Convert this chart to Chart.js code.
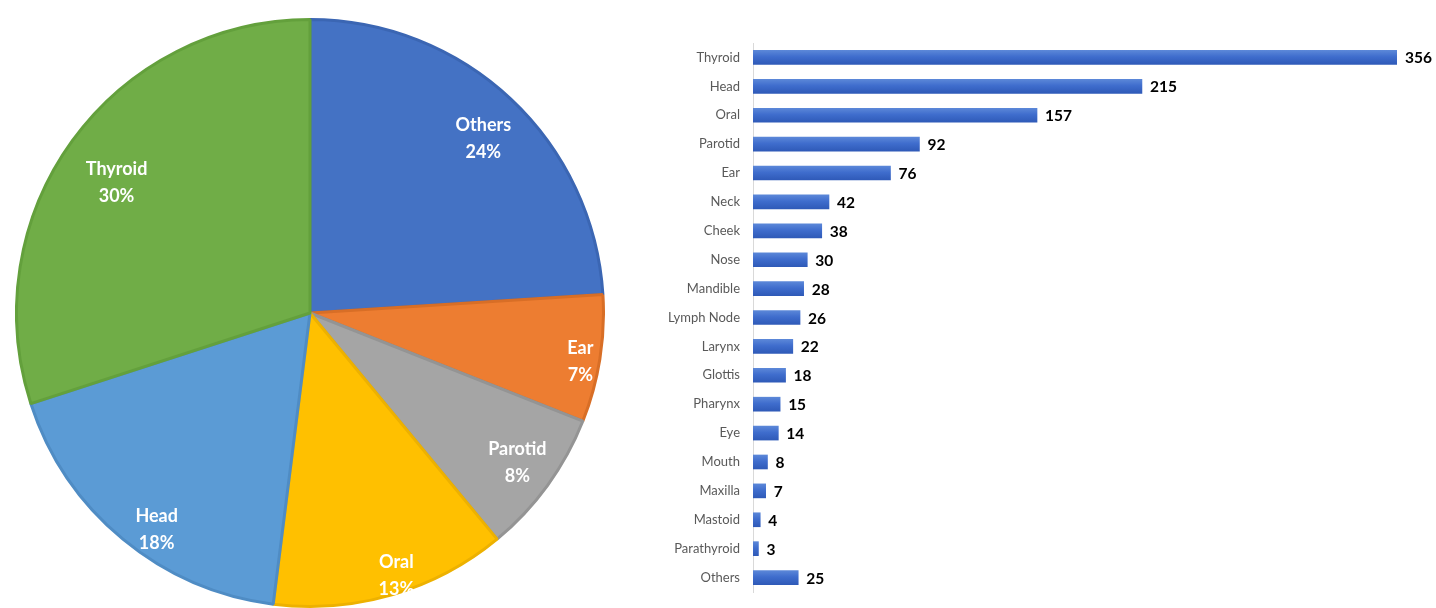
<!DOCTYPE html>
<html>
<head>
<meta charset="utf-8">
<title>Tumour sites</title>
<script src="https://cdn.jsdelivr.net/npm/chart.js@4.4.1/dist/chart.umd.min.js"></script>
<style>
  html, body { margin: 0; padding: 0; background: #ffffff; }
  body { width: 1436px; height: 608px; position: relative; overflow: hidden; }
  #pieBox { position: absolute; left: 14.5px; top: 18px; width: 590px; height: 612px; }
  #barBox { position: absolute; left: 640px; top: 0; width: 796px; height: 608px; }
</style>
</head>
<body>
<div id="pieBox"><canvas id="pie"></canvas></div>
<div id="barBox"><canvas id="bar"></canvas></div>
<script>
// Share of cases by site (percent), clockwise from 12 o'clock
const pieLabels = ['Others', 'Ear', 'Parotid', 'Oral', 'Head', 'Thyroid'];
const pieShares = [24, 7, 8, 13, 18, 30];

// Case counts by site
const siteLabels = ['Thyroid', 'Head', 'Oral', 'Parotid', 'Ear', 'Neck', 'Cheek', 'Nose',
  'Mandible', 'Lymph Node', 'Larynx', 'Glottis', 'Pharynx', 'Eye', 'Mouth', 'Maxilla',
  'Mastoid', 'Parathyroid', 'Others'];
const siteCounts = [356, 215, 157, 92, 76, 42, 38, 30, 28, 26, 22, 18, 15, 14, 8, 7, 4, 3, 25];

const sliceFill = ['#4472C4', '#ED7D31', '#A5A5A5', '#FFC000', '#5B9BD5', '#70AD47'];
const sliceEdge = ['#3B66B3', '#D86E26', '#949494', '#EDB100', '#4F8CC4', '#63A03C'];
// where each slice's caption sits: fraction of the radius, and a small turn in degrees
const captionReach = [0.838, 0.936, 0.871, 0.942, 0.904, 0.795];
const captionTurn = [1.6, 1.2, -0.2, -2.0, -4.3, -2.0];

const BAR_THICKNESS = 14;

const pieCaptions = {
  id: 'pieCaptions',
  afterDatasetsDraw(chart) {
    const ctx = chart.ctx;
    const meta = chart.getDatasetMeta(0);
    const values = chart.data.datasets[0].data;
    ctx.save();
    ctx.fillStyle = '#ffffff';
    ctx.font = 'bold 18px Lato, "Open Sans", sans-serif';
    ctx.textAlign = 'center';
    ctx.textBaseline = 'middle';
    meta.data.forEach((arc, i) => {
      const p = arc.getProps(['x', 'y', 'startAngle', 'endAngle', 'outerRadius'], true);
      const mid = (p.startAngle + p.endAngle) / 2 + captionTurn[i] * Math.PI / 180;
      const r = p.outerRadius * captionReach[i];
      const cx = p.x + Math.cos(mid) * r;
      const cy = p.y + Math.sin(mid) * r;
      ctx.fillText(chart.data.labels[i], cx, cy - 13.5);
      ctx.fillText(values[i] + '%', cx, cy + 13.5);
    });
    ctx.restore();
  }
};

const barValues = {
  id: 'barValues',
  afterDatasetsDraw(chart) {
    const ctx = chart.ctx;
    const meta = chart.getDatasetMeta(0);
    const values = chart.data.datasets[0].data;
    ctx.save();
    ctx.fillStyle = '#000000';
    ctx.font = 'bold 15.5px Lato, "Open Sans", sans-serif';
    ctx.textAlign = 'left';
    ctx.textBaseline = 'middle';
    meta.data.forEach((bar, i) => {
      const p = bar.getProps(['x', 'y'], true);
      ctx.fillText(String(values[i]), p.x + 8, p.y + 1);
    });
    ctx.restore();
  }
};

// soft top-to-bottom shading on each bar
function barShade(context) {
  const chart = context.chart;
  const yScale = chart.scales.y;
  const flat = '#3F6DCD';
  if (!yScale || context.dataIndex === undefined) return flat;
  const yc = yScale.getPixelForValue(context.dataIndex);
  if (!Number.isFinite(yc)) return flat;
  const g = chart.ctx.createLinearGradient(0, yc - BAR_THICKNESS / 2, 0, yc + BAR_THICKNESS / 2);
  g.addColorStop(0, '#5B87D8');
  g.addColorStop(0.45, '#3F6DCD');
  g.addColorStop(1, '#2F5AB8');
  return g;
}

function build() {
  new Chart(document.getElementById('pie'), {
    type: 'pie',
    data: {
      labels: pieLabels,
      datasets: [{
        data: pieShares,
        backgroundColor: sliceFill,
        borderColor: sliceEdge,
        borderWidth: 3
      }]
    },
    options: {
      responsive: true,
      maintainAspectRatio: false,
      animation: false,
      layout: { padding: { top: 0, left: 0, right: 0, bottom: 22 } },
      plugins: { legend: { display: false }, tooltip: { enabled: false } }
    },
    plugins: [pieCaptions]
  });

  new Chart(document.getElementById('bar'), {
    type: 'bar',
    data: {
      labels: siteLabels,
      datasets: [{
        data: siteCounts,
        backgroundColor: barShade,
        borderWidth: 0,
        barThickness: BAR_THICKNESS
      }]
    },
    options: {
      indexAxis: 'y',
      responsive: true,
      maintainAspectRatio: false,
      animation: false,
      layout: { padding: { top: 43, bottom: 16, right: 39, left: 0 } },
      scales: {
        x: {
          display: false,
          min: 0,
          max: 356
        },
        y: {
          grid: { display: false, drawTicks: false },
          border: { display: true, color: '#D9D9D9', width: 1 },
          ticks: {
            padding: 13,
            color: '#595959',
            font: { family: 'Lato, "Open Sans", sans-serif', size: 13 }
          },
          afterFit(scale) {
            // fixed label column; rows fill the full plot height
            scale.width = 113;
            scale.paddingTop = 0;
            scale.paddingBottom = 0;
          }
        }
      },
      plugins: { legend: { display: false }, tooltip: { enabled: false } }
    },
    plugins: [barValues]
  });
}

Promise.all([
  document.fonts.load('bold 18px Lato'),
  document.fonts.load('13px Lato')
]).then(build, build);
</script>
</body>
</html>
